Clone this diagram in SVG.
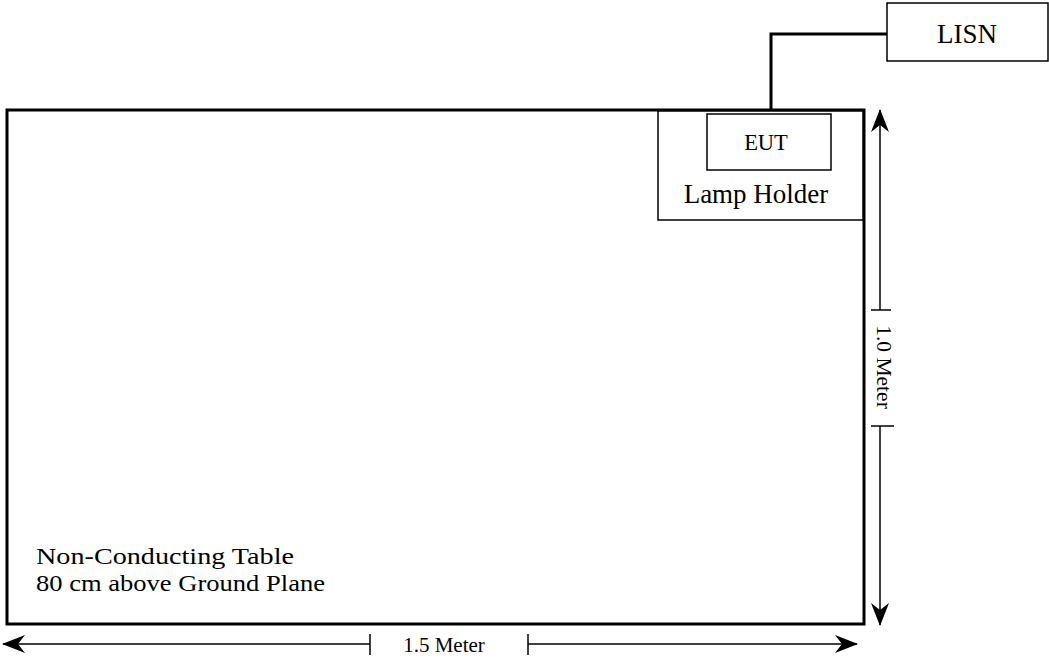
<svg xmlns="http://www.w3.org/2000/svg" width="1049" height="660" viewBox="0 0 1049 660">
<style>
text{font-family:"Liberation Serif","Times New Roman",serif;fill:#000}
.thin{fill:#fff;stroke:#000;stroke-width:1.5}
.thick{fill:none;stroke:#000;stroke-width:3}
.dim{fill:none;stroke:#000;stroke-width:1.5}
</style>
<defs>
<marker id="ah" viewBox="0 0 24 20" refX="23" refY="10" markerWidth="24" markerHeight="20" markerUnits="userSpaceOnUse" orient="auto">
<path d="M24,10 L1,1 L8,10 L1,19 Z" fill="#000"/>
</marker>
</defs>
<rect width="1049" height="660" fill="#fff"/>
<g id="table">
<rect x="7" y="110" width="857" height="514" class="thick"/>
<text x="36" y="564" font-size="23.5" textLength="258" lengthAdjust="spacingAndGlyphs">Non-Conducting Table</text>
<text x="36" y="591" font-size="23.5" textLength="289" lengthAdjust="spacingAndGlyphs">80 cm above Ground Plane</text>
</g>
<g id="lamp-holder">
<rect x="658" y="111" width="205" height="109" class="thin"/>
<text x="756" y="203" font-size="27" text-anchor="middle">Lamp Holder</text>
</g>
<g id="eut">
<rect x="707" y="114" width="124" height="56" class="thin"/>
<text x="766" y="150" font-size="22.5" text-anchor="middle">EUT</text>
</g>
<g id="lisn">
<rect x="887" y="3" width="161" height="58" class="thin"/>
<text x="967" y="43" font-size="27" text-anchor="middle">LISN</text>
</g>
<g id="connectors">
<polyline points="771,110 771,34 887,34" class="thick"/>
</g>
<g id="dimensions">
<line x1="370" y1="644" x2="3" y2="644" class="dim" marker-end="url(#ah)"/>
<line x1="370" y1="634" x2="370" y2="655" class="dim"/>
<line x1="528" y1="644" x2="857" y2="644" class="dim" marker-end="url(#ah)"/>
<line x1="528" y1="634" x2="528" y2="655" class="dim"/>
<text x="444" y="652" font-size="21" text-anchor="middle">1.5 Meter</text>
<line x1="880" y1="310" x2="880" y2="110" class="dim" marker-end="url(#ah)"/>
<line x1="871" y1="310" x2="891" y2="310" class="dim"/>
<line x1="880" y1="426" x2="880" y2="625" class="dim" marker-end="url(#ah)"/>
<line x1="871" y1="426" x2="894" y2="426" class="dim"/>
<text transform="translate(877,367) rotate(90)" font-size="21.5" text-anchor="middle">1.0 Meter</text>
</g>
</svg>
